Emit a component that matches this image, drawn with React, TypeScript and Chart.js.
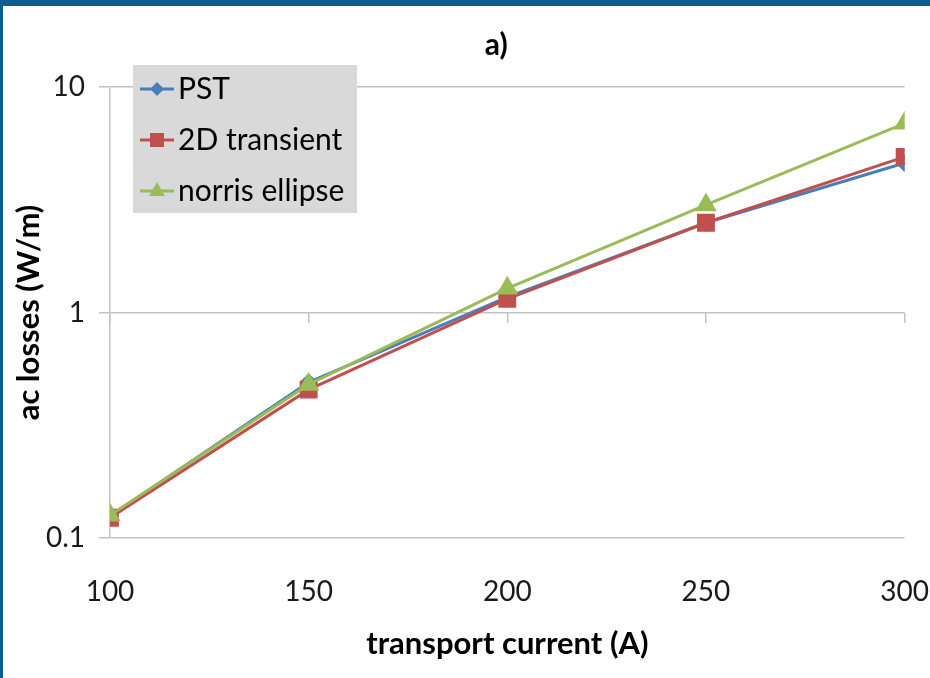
import React, { useEffect, useRef } from "react";
import { Chart, registerables } from "chart.js";

Chart.register(...registerables);

const CURRENTS = [100, 150, 200, 250, 300];
const PST = [0.125, 0.49, 1.17, 2.5, 4.6];
const TRANSIENT_2D = [0.123, 0.455, 1.15, 2.5, 4.9];
const NORRIS = [0.126, 0.48, 1.28, 3.0, 6.9];
const Y_TICKS = [0.1, 1, 10];
const Y_TICK_LABELS = ["0.1", "1", "10"];
const SERIES_NAMES = ["PST", "2D transient", "norris ellipse"];
const TITLE = "a)";
const X_TITLE = "transport current (A)";
const Y_TITLE = "ac losses (W/m)";

const FONT = "Lato, 'Open Sans', sans-serif";
const GRID = "#c3c3c3";

const framePlugin = {
  id: "frame",
  beforeDraw(chart: any) {
    const { ctx, width, height } = chart;
    ctx.save();
    ctx.fillStyle = "#ffffff";
    ctx.fillRect(0, 0, width, height);
    ctx.fillStyle = "#0b5e8e";
    ctx.fillRect(0, 0, width, 6);
    ctx.fillRect(0, 0, 3, height);
    ctx.restore();
  },
  afterDraw(chart: any) {
    const { ctx, chartArea } = chart;
    ctx.save();
    ctx.fillStyle = "#000";
    ctx.font = `bold 30px ${FONT}`;
    ctx.textAlign = "center";
    ctx.textBaseline = "middle";
    ctx.fillText(TITLE, (chartArea.left + chartArea.right) / 2 - 11, 45);

    const bx = chartArea.left + 23;
    const by = 65;
    const bw = 224;
    const bh = 148;
    ctx.fillStyle = "#d9d9d9";
    ctx.fillRect(bx, by, bw, bh);
    chart.data.datasets.forEach((ds: any, i: number) => {
      const cy = by + 24 + i * 51;
      const lx1 = bx + 7;
      const lx2 = bx + 41;
      const mx = (lx1 + lx2) / 2;
      ctx.strokeStyle = ds.borderColor;
      ctx.lineWidth = 3;
      ctx.beginPath();
      ctx.moveTo(lx1, cy);
      ctx.lineTo(lx2, cy);
      ctx.stroke();
      ctx.fillStyle = ds.backgroundColor;
      ctx.beginPath();
      if (ds.pointStyle === "rectRot") {
        const r = 7;
        ctx.moveTo(mx, cy - r);
        ctx.lineTo(mx + r, cy);
        ctx.lineTo(mx, cy + r);
        ctx.lineTo(mx - r, cy);
        ctx.closePath();
      } else if (ds.pointStyle === "rect") {
        ctx.rect(mx - 7, cy - 7, 14, 14);
      } else {
        ctx.moveTo(mx, cy - 9);
        ctx.lineTo(mx + 8, cy + 5);
        ctx.lineTo(mx - 8, cy + 5);
        ctx.closePath();
      }
      ctx.fill();
      ctx.fillStyle = "#000";
      ctx.font = `30px ${FONT}`;
      ctx.textAlign = "left";
      ctx.textBaseline = "middle";
      ctx.fillText(ds.label, lx2 + 4, cy);
    });
    ctx.restore();
  },
};

export default function App() {
  const ref = useRef<HTMLCanvasElement | null>(null);
  useEffect(() => {
    if (!ref.current) return;
    const mk = (vals: number[]) => CURRENTS.map((x, i) => ({ x, y: vals[i] }));
    const chart = new Chart(ref.current, {
      type: "line",
      data: {
        datasets: [
          {
            label: SERIES_NAMES[0],
            data: mk(PST),
            borderColor: "#4a7ebb",
            backgroundColor: "#4a7ebb",
            pointStyle: "rectRot",
            pointRadius: 7,
            borderWidth: 3,
            order: 3,
          },
          {
            label: SERIES_NAMES[1],
            data: mk(TRANSIENT_2D),
            borderColor: "#c0504d",
            backgroundColor: "#c0504d",
            pointStyle: "rect",
            pointRadius: 10.5,
            borderWidth: 3,
            order: 2,
          },
          {
            label: SERIES_NAMES[2],
            data: mk(NORRIS),
            borderColor: "#9bbb59",
            backgroundColor: "#9bbb59",
            pointStyle: "triangle",
            pointRadius: 9.5,
            borderWidth: 3,
            order: 1,
          },
        ],
      },
      options: {
        responsive: false,
        animation: false,
        events: [],
        layout: { padding: { left: 3, top: 87, right: 23, bottom: 0 } },
        plugins: { legend: { display: false }, tooltip: { enabled: false }, title: { display: false } },
        elements: { line: { tension: 0 }, point: { borderWidth: 0 } },
        scales: {
          x: {
            type: "linear",
            position: "bottom",
            min: 100,
            max: 300,
            ticks: {
              stepSize: 50,
              color: "#1a1a1a",
              font: { family: FONT, size: 28 },
              padding: 1,
              maxRotation: 0,
            },
            grid: {
              display: true,
              drawOnChartArea: false,
              drawTicks: true,
              tickLength: 36,
              color: "rgba(0,0,0,0)",
            },
            border: { display: false },
            title: {
              display: true,
              text: X_TITLE,
              color: "#000",
              font: { family: FONT, size: 31, weight: "bold" },
              padding: { top: 0, bottom: 15 },
            },
            afterFit: (s: any) => {
              s.height = 140;
            },
          },
          x2: {
            type: "linear",
            position: { y: 1 } as any,
            min: 100,
            max: 300,
            ticks: { stepSize: 50, display: false },
            grid: { drawOnChartArea: false, drawTicks: true, tickLength: 10, color: GRID, lineWidth: 1.5 },
            border: { display: false },
          },
          y: {
            type: "logarithmic",
            position: "left",
            min: 0.1,
            max: 10,
            afterBuildTicks: (s: any) => {
              s.ticks = Y_TICKS.map((v) => ({ value: v }));
            },
            ticks: {
              color: "#1a1a1a",
              font: { family: FONT, size: 28 },
              padding: 14,
              callback: (v: any) => {
                const i = Y_TICKS.indexOf(Number(v));
                return i >= 0 ? Y_TICK_LABELS[i] : "";
              },
            },
            grid: { color: GRID, lineWidth: 1.5, tickLength: 11, drawTicks: true },
            border: { display: true, color: GRID, width: 1.5 },
            title: {
              display: true,
              text: Y_TITLE,
              color: "#000",
              font: { family: FONT, size: 31, weight: "bold" },
              padding: { top: 7, bottom: 0 },
            },
            afterFit: (s: any) => {
              s.width = 107;
            },
          },
        },
      },
      plugins: [framePlugin],
    });
    return () => chart.destroy();
  }, []);
  return (
    <div style={{ position: "absolute", left: 0, top: 0, width: 930, height: 678 }}>
      <canvas ref={ref} width={930} height={678} style={{ display: "block" }} />
    </div>
  );
}
